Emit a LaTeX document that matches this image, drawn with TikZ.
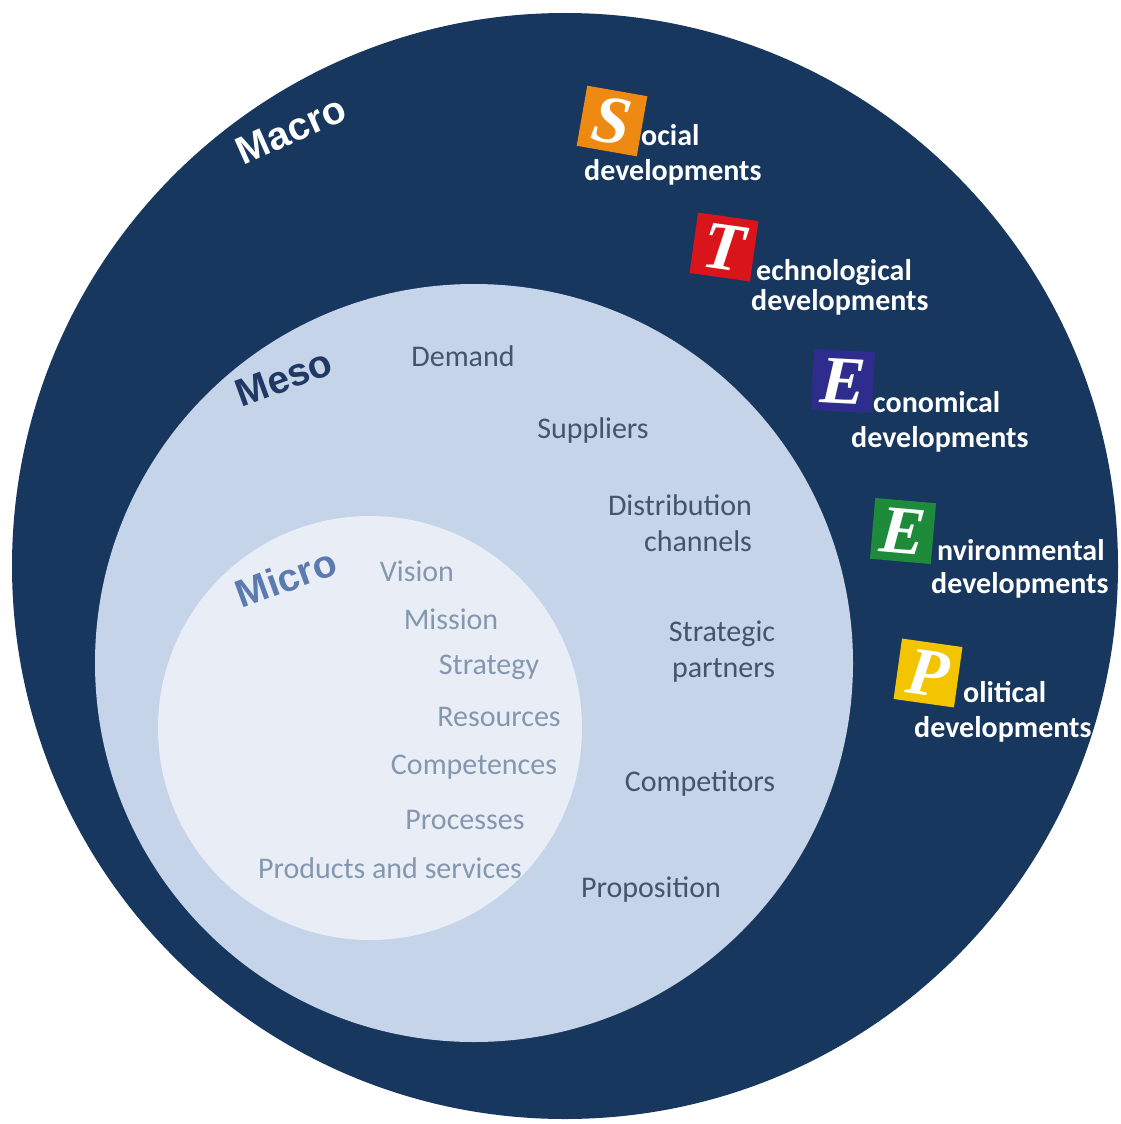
\documentclass[tikz,border=0pt]{standalone}
\usepackage{fontspec}
\setmainfont{Carlito}
\newfontfamily\headfont{Liberation Sans}
\newfontfamily\tilefont{Liberation Serif}
\definecolor{macro}{HTML}{17375F}
\definecolor{meso}{HTML}{C5D4E8}
\definecolor{micro}{HTML}{E9EEF6}
\definecolor{mesoink}{HTML}{44546A}
\definecolor{microink}{HTML}{8497B0}
\definecolor{mesohead}{HTML}{1F3864}
\definecolor{microhead}{HTML}{5B7BAE}
\definecolor{sorange}{HTML}{EE8A12}
\definecolor{tred}{HTML}{D9141A}
\definecolor{eindigo}{HTML}{2E2C8C}
\definecolor{egreen}{HTML}{1E8B3A}
\definecolor{pyellow}{HTML}{F2C500}
\tikzset{tile/.style={minimum size=61pt,inner sep=0pt,text=white,font=\tilefont\bfseries\itshape\fontsize{68}{68}\selectfont}}

\begin{document}
\begin{tikzpicture}[x=1pt,y=-1pt,
  mesotext/.style={text=mesoink,font=\fontsize{30}{36}\selectfont,align=right},
  microtext/.style={text=microink,font=\fontsize{30}{36}\selectfont},
  ring/.style={font=\headfont\bfseries\fontsize{39}{40}\selectfont},
  pest/.style={anchor=base west,inner sep=0pt,text=white,font=\bfseries\fontsize{30}{36}\selectfont}]
\useasboundingbox (0,0) rectangle (1120,1124);
% the three rings
\fill[macro] (565,566) circle[radius=553pt];
\fill[meso] (474,663) circle[radius=379pt];
\fill[micro] (370,728) circle[radius=212pt];
% ring names
\node[ring,text=white,rotate=24] (macrolbl) at (291,130) {Macro};
\node[ring,text=mesohead,rotate=20] (mesolbl) at (284,378) {Meso};
\node[ring,text=microhead,rotate=20] (microlbl) at (286,578) {Micro};
% meso factors
\node[mesotext] (demand) at (463,356) {Demand};
\node[mesotext] (suppliers) at (593,430) {Suppliers};
\node[mesotext] (distribution) at (680,523) {Distribution\\channels};
\node[mesotext] (partners) at (722,652) {Strategic\\partners};
\node[mesotext] (competitors) at (700,784) {Competitors};
\node[mesotext] (proposition) at (651,890) {Proposition};
% micro factors
\foreach \name/\x/\y/\txt in {vision/417/571/Vision, mission/451/619/Mission,
  strategy/489/667/Strategy, resources/499/717/Resources,
  competences/474/767/Competences, processes/465/820/Processes,
  products/390/868/Products and services}
  \node[microtext] (\name) at (\x,\y) {\txt};
% STEEP tiles
\node[tile,fill=sorange,rotate=-10] (S) at (612,121) {S};
\node[tile,fill=tred,rotate=-8] (T) at (724,247) {T};
\node[tile,fill=eindigo,rotate=-3] (E1) at (843,381) {E};
\node[tile,fill=egreen,rotate=-5] (E2) at (903,531) {E};
\node[tile,fill=pyellow,rotate=-8] (P) at (928,673) {P};
\foreach \name/\x/\y/\first/\dx/\dy in {s/641/145/ocial/584/180, t/756/280/echnological/751/310,
  e/873/412/conomical/851/447, n/937/560/nvironmental/931/593, p/963/702/olitical/914/737}
{
  \node[pest] (\name head) at (\x,\y) {\first};
  \node[pest] (\name dev) at (\dx,\dy) {developments};
}
\end{tikzpicture}
\end{document}
